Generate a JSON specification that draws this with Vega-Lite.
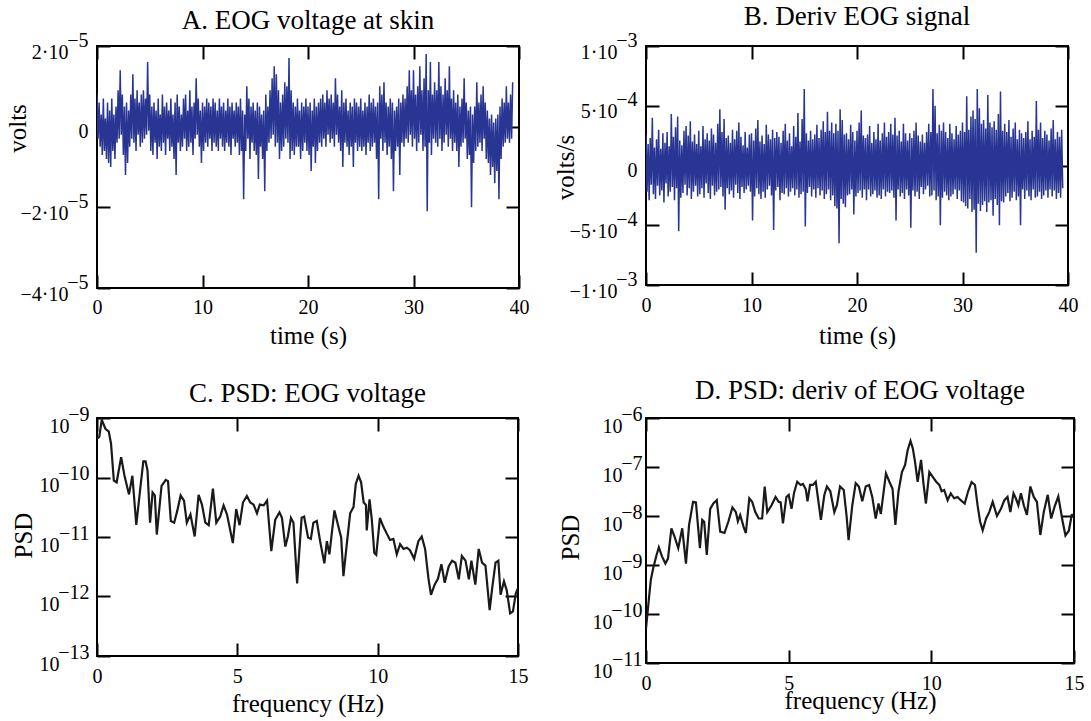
{
"$schema": "https://vega.github.io/schema/vega-lite/v6.json",
"autosize": {"type": "none"},
"padding": {"left": 97, "top": 46, "right": 994, "bottom": 675},
"config": {
 "font": "Liberation Serif",
 "view": {"stroke": "black", "strokeWidth": 2},
 "axis": {"labelFont": "Liberation Serif", "labelFontSize": 20, "labelColor": "black", "titleFont": "Liberation Serif", "titleFontSize": 25, "titleFontWeight": "normal", "titleColor": "black", "grid": false, "domain": false, "labelOverlap": false},
 "title": {"font": "Liberation Serif", "fontSize": 27, "fontWeight": "normal", "color": "black", "baseline": "alphabetic", "anchor": "middle", "offset": 0}
},
"datasets": {
"A": [
{"t":0.0,"v":8},{"t":0.1,"v":-3},{"t":0.2,"v":6},{"t":0.3,"v":-5},{"t":0.4,"v":3},{"t":0.5,"v":-7},{"t":0.6,"v":7},{"t":0.7,"v":-6},{"t":0.8,"v":2},{"t":0.9,"v":-8},
{"t":1.0,"v":6},{"t":1.1,"v":-9},{"t":1.2,"v":4},{"t":1.3,"v":-10},{"t":1.4,"v":7},{"t":1.5,"v":-6},{"t":1.6,"v":3},{"t":1.7,"v":-8},{"t":1.8,"v":5},{"t":1.9,"v":-4},
{"t":2.0,"v":9},{"t":2.1,"v":-3},{"t":2.2,"v":14},{"t":2.3,"v":-2},{"t":2.4,"v":8},{"t":2.5,"v":-7},{"t":2.6,"v":5},{"t":2.7,"v":-12},{"t":2.8,"v":6},{"t":2.9,"v":-9},
{"t":3.0,"v":4},{"t":3.1,"v":-5},{"t":3.2,"v":8},{"t":3.3,"v":-3},{"t":3.4,"v":13},{"t":3.5,"v":-4},{"t":3.6,"v":7},{"t":3.7,"v":-6},{"t":3.8,"v":9},{"t":3.9,"v":-2},
{"t":4.0,"v":6},{"t":4.1,"v":-5},{"t":4.2,"v":8},{"t":4.3,"v":-4},{"t":4.4,"v":9},{"t":4.5,"v":-3},{"t":4.6,"v":7},{"t":4.7,"v":-2},{"t":4.8,"v":16},{"t":4.9,"v":-1},
{"t":5.0,"v":8},{"t":5.1,"v":-6},{"t":5.2,"v":5},{"t":5.3,"v":-7},{"t":5.4,"v":6},{"t":5.5,"v":-4},{"t":5.6,"v":4},{"t":5.7,"v":-8},{"t":5.8,"v":7},{"t":5.9,"v":-5},
{"t":6.0,"v":3},{"t":6.1,"v":-6},{"t":6.2,"v":8},{"t":6.3,"v":-4},{"t":6.4,"v":5},{"t":6.5,"v":-7},{"t":6.6,"v":6},{"t":6.7,"v":-3},{"t":6.8,"v":4},{"t":6.9,"v":-6},
{"t":7.0,"v":7},{"t":7.1,"v":-5},{"t":7.2,"v":3},{"t":7.3,"v":-8},{"t":7.4,"v":6},{"t":7.5,"v":-12},{"t":7.6,"v":8},{"t":7.7,"v":-4},{"t":7.8,"v":5},{"t":7.9,"v":-6},
{"t":8.0,"v":3},{"t":8.1,"v":-5},{"t":8.2,"v":7},{"t":8.3,"v":-3},{"t":8.4,"v":8},{"t":8.5,"v":-6},{"t":8.6,"v":4},{"t":8.7,"v":-5},{"t":8.8,"v":9},{"t":8.9,"v":-4},
{"t":9.0,"v":5},{"t":9.1,"v":-7},{"t":9.2,"v":6},{"t":9.3,"v":-3},{"t":9.4,"v":12},{"t":9.5,"v":-2},{"t":9.6,"v":7},{"t":9.7,"v":-5},{"t":9.8,"v":4},{"t":9.9,"v":-9},
{"t":10.0,"v":6},{"t":10.1,"v":-6},{"t":10.2,"v":5},{"t":10.3,"v":-4},{"t":10.4,"v":7},{"t":10.5,"v":-5},{"t":10.6,"v":6},{"t":10.7,"v":-3},{"t":10.8,"v":5},{"t":10.9,"v":-6},
{"t":11.0,"v":7},{"t":11.1,"v":-4},{"t":11.2,"v":6},{"t":11.3,"v":-5},{"t":11.4,"v":4},{"t":11.5,"v":-6},{"t":11.6,"v":7},{"t":11.7,"v":-3},{"t":11.8,"v":5},{"t":11.9,"v":-5},
{"t":12.0,"v":6},{"t":12.1,"v":-6},{"t":12.2,"v":4},{"t":12.3,"v":-4},{"t":12.4,"v":7},{"t":12.5,"v":-5},{"t":12.6,"v":5},{"t":12.7,"v":-7},{"t":12.8,"v":6},{"t":12.9,"v":-3},
{"t":13.0,"v":4},{"t":13.1,"v":-5},{"t":13.2,"v":6},{"t":13.3,"v":-4},{"t":13.4,"v":5},{"t":13.5,"v":-7},{"t":13.6,"v":7},{"t":13.7,"v":-6},{"t":13.8,"v":4},{"t":13.9,"v":-18},
{"t":14.0,"v":3},{"t":14.1,"v":-6},{"t":14.2,"v":10},{"t":14.3,"v":-3},{"t":14.4,"v":7},{"t":14.5,"v":-8},{"t":14.6,"v":5},{"t":14.7,"v":-4},{"t":14.8,"v":6},{"t":14.9,"v":-6},
{"t":15.0,"v":4},{"t":15.1,"v":-7},{"t":15.2,"v":6},{"t":15.3,"v":-13},{"t":15.4,"v":5},{"t":15.5,"v":-5},{"t":15.6,"v":3},{"t":15.7,"v":-8},{"t":15.8,"v":4},{"t":15.9,"v":-16},
{"t":16.0,"v":8},{"t":16.1,"v":-6},{"t":16.2,"v":5},{"t":16.3,"v":-4},{"t":16.4,"v":9},{"t":16.5,"v":-3},{"t":16.6,"v":12},{"t":16.7,"v":-2},{"t":16.8,"v":15},{"t":16.9,"v":-5},
{"t":17.0,"v":13},{"t":17.1,"v":-4},{"t":17.2,"v":9},{"t":17.3,"v":-8},{"t":17.4,"v":6},{"t":17.5,"v":-6},{"t":17.6,"v":8},{"t":17.7,"v":-5},{"t":17.8,"v":11},{"t":17.9,"v":-3},
{"t":18.0,"v":10},{"t":18.1,"v":-4},{"t":18.2,"v":17},{"t":18.3,"v":-8},{"t":18.4,"v":9},{"t":18.5,"v":-6},{"t":18.6,"v":6},{"t":18.7,"v":-7},{"t":18.8,"v":5},{"t":18.9,"v":-5},
{"t":19.0,"v":7},{"t":19.1,"v":-5},{"t":19.2,"v":4},{"t":19.3,"v":-8},{"t":19.4,"v":6},{"t":19.5,"v":-6},{"t":19.6,"v":5},{"t":19.7,"v":-4},{"t":19.8,"v":7},{"t":19.9,"v":-6},
{"t":20.0,"v":5},{"t":20.1,"v":-7},{"t":20.2,"v":6},{"t":20.3,"v":-11},{"t":20.4,"v":4},{"t":20.5,"v":-5},{"t":20.6,"v":7},{"t":20.7,"v":-9},{"t":20.8,"v":5},{"t":20.9,"v":-6},
{"t":21.0,"v":6},{"t":21.1,"v":-4},{"t":21.2,"v":7},{"t":21.3,"v":-5},{"t":21.4,"v":8},{"t":21.5,"v":-3},{"t":21.6,"v":6},{"t":21.7,"v":-5},{"t":21.8,"v":9},{"t":21.9,"v":-2},
{"t":22.0,"v":7},{"t":22.1,"v":-4},{"t":22.2,"v":8},{"t":22.3,"v":-3},{"t":22.4,"v":6},{"t":22.5,"v":-5},{"t":22.6,"v":12},{"t":22.7,"v":-2},{"t":22.8,"v":8},{"t":22.9,"v":-4},
{"t":23.0,"v":5},{"t":23.1,"v":-6},{"t":23.2,"v":9},{"t":23.3,"v":-10},{"t":23.4,"v":6},{"t":23.5,"v":-4},{"t":23.6,"v":7},{"t":23.7,"v":-5},{"t":23.8,"v":4},{"t":23.9,"v":-7},
{"t":24.0,"v":6},{"t":24.1,"v":-5},{"t":24.2,"v":5},{"t":24.3,"v":-10},{"t":24.4,"v":7},{"t":24.5,"v":-4},{"t":24.6,"v":6},{"t":24.7,"v":-6},{"t":24.8,"v":5},{"t":24.9,"v":-5},
{"t":25.0,"v":7},{"t":25.1,"v":-6},{"t":25.2,"v":4},{"t":25.3,"v":-5},{"t":25.4,"v":6},{"t":25.5,"v":-7},{"t":25.6,"v":5},{"t":25.7,"v":-4},{"t":25.8,"v":8},{"t":25.9,"v":-6},
{"t":26.0,"v":6},{"t":26.1,"v":-5},{"t":26.2,"v":7},{"t":26.3,"v":-4},{"t":26.4,"v":5},{"t":26.5,"v":-8},{"t":26.6,"v":6},{"t":26.7,"v":-18},{"t":26.8,"v":10},{"t":26.9,"v":-3},
{"t":27.0,"v":8},{"t":27.1,"v":-6},{"t":27.2,"v":11},{"t":27.3,"v":-4},{"t":27.4,"v":6},{"t":27.5,"v":-7},{"t":27.6,"v":5},{"t":27.7,"v":-5},{"t":27.8,"v":7},{"t":27.9,"v":-8},
{"t":28.0,"v":6},{"t":28.1,"v":-16},{"t":28.2,"v":4},{"t":28.3,"v":-6},{"t":28.4,"v":5},{"t":28.5,"v":-5},{"t":28.6,"v":7},{"t":28.7,"v":-12},{"t":28.8,"v":6},{"t":28.9,"v":-4},
{"t":29.0,"v":8},{"t":29.1,"v":-5},{"t":29.2,"v":7},{"t":29.3,"v":-3},{"t":29.4,"v":10},{"t":29.5,"v":-4},{"t":29.6,"v":14},{"t":29.7,"v":-2},{"t":29.8,"v":9},{"t":29.9,"v":-5},
{"t":30.0,"v":14},{"t":30.1,"v":-3},{"t":30.2,"v":8},{"t":30.3,"v":-6},{"t":30.4,"v":10},{"t":30.5,"v":-4},{"t":30.6,"v":15},{"t":30.7,"v":-2},{"t":30.8,"v":9},{"t":30.9,"v":-6},
{"t":31.0,"v":12},{"t":31.1,"v":-5},{"t":31.2,"v":18},{"t":31.3,"v":-21},{"t":31.4,"v":9},{"t":31.5,"v":-4},{"t":31.6,"v":16},{"t":31.7,"v":-7},{"t":31.8,"v":8},{"t":31.9,"v":-3},
{"t":32.0,"v":11},{"t":32.1,"v":-4},{"t":32.2,"v":9},{"t":32.3,"v":-5},{"t":32.4,"v":16},{"t":32.5,"v":-3},{"t":32.6,"v":10},{"t":32.7,"v":-6},{"t":32.8,"v":8},{"t":32.9,"v":-4},
{"t":33.0,"v":12},{"t":33.1,"v":-2},{"t":33.2,"v":9},{"t":33.3,"v":-5},{"t":33.4,"v":15},{"t":33.5,"v":-3},{"t":33.6,"v":7},{"t":33.7,"v":-6},{"t":33.8,"v":9},{"t":33.9,"v":-4},
{"t":34.0,"v":6},{"t":34.1,"v":-6},{"t":34.2,"v":8},{"t":34.3,"v":-10},{"t":34.4,"v":5},{"t":34.5,"v":-5},{"t":34.6,"v":7},{"t":34.7,"v":-4},{"t":34.8,"v":12},{"t":34.9,"v":-3},
{"t":35.0,"v":6},{"t":35.1,"v":-8},{"t":35.2,"v":4},{"t":35.3,"v":-7},{"t":35.4,"v":5},{"t":35.5,"v":-20},{"t":35.6,"v":3},{"t":35.7,"v":-9},{"t":35.8,"v":5},{"t":35.9,"v":-6},
{"t":36.0,"v":11},{"t":36.1,"v":-5},{"t":36.2,"v":6},{"t":36.3,"v":-4},{"t":36.4,"v":8},{"t":36.5,"v":-6},{"t":36.6,"v":10},{"t":36.7,"v":-3},{"t":36.8,"v":6},{"t":36.9,"v":-8},
{"t":37.0,"v":4},{"t":37.1,"v":-9},{"t":37.2,"v":2},{"t":37.3,"v":-12},{"t":37.4,"v":3},{"t":37.5,"v":-10},{"t":37.6,"v":1},{"t":37.7,"v":-14},{"t":37.8,"v":2},{"t":37.9,"v":-11},
{"t":38.0,"v":3},{"t":38.1,"v":-18},{"t":38.2,"v":5},{"t":38.3,"v":-8},{"t":38.4,"v":7},{"t":38.5,"v":-5},{"t":38.6,"v":6},{"t":38.7,"v":-4},{"t":38.8,"v":10},{"t":38.9,"v":-3},
{"t":39.0,"v":6},{"t":39.1,"v":-4},{"t":39.2,"v":8},{"t":39.3,"v":-3},{"t":39.4,"v":11}
],
"B": [
{"t":0.0,"v":2.6},{"t":0.1,"v":-2.2},{"t":0.2,"v":1.8},{"t":0.3,"v":-2.9},{"t":0.4,"v":2.3},{"t":0.5,"v":-1.6},{"t":0.6,"v":4.0},{"t":0.7,"v":-2.4},{"t":0.8,"v":1.5},{"t":0.9,"v":-2.8},
{"t":1.0,"v":2.2},{"t":1.1,"v":-1.7},{"t":1.2,"v":3.0},{"t":1.3,"v":-2.5},{"t":1.4,"v":1.4},{"t":1.5,"v":-2.1},{"t":1.6,"v":2.7},{"t":1.7,"v":-3.1},{"t":1.8,"v":1.9},{"t":1.9,"v":-1.5},
{"t":2.0,"v":2.8},{"t":2.1,"v":-2.6},{"t":2.2,"v":1.6},{"t":2.3,"v":-2.2},{"t":2.4,"v":4.3},{"t":2.5,"v":-1.8},{"t":2.6,"v":2.4},{"t":2.7,"v":-2.9},{"t":2.8,"v":3.2},{"t":2.9,"v":-1.9},
{"t":3.0,"v":4.1},{"t":3.1,"v":-5.5},{"t":3.2,"v":2.1},{"t":3.3,"v":-2.7},{"t":3.4,"v":1.7},{"t":3.5,"v":-2.3},{"t":3.6,"v":2.9},{"t":3.7,"v":-1.6},{"t":3.8,"v":3.3},{"t":3.9,"v":-2.5},
{"t":4.0,"v":2.5},{"t":4.1,"v":-1.9},{"t":4.2,"v":3.7},{"t":4.3,"v":-2.8},{"t":4.4,"v":2.0},{"t":4.5,"v":-2.2},{"t":4.6,"v":2.6},{"t":4.7,"v":-1.7},{"t":4.8,"v":1.8},{"t":4.9,"v":-2.6},
{"t":5.0,"v":2.9},{"t":5.1,"v":-2.4},{"t":5.2,"v":1.6},{"t":5.3,"v":-1.9},{"t":5.4,"v":3.3},{"t":5.5,"v":-2.7},{"t":5.6,"v":2.2},{"t":5.7,"v":-1.5},{"t":5.8,"v":2.7},{"t":5.9,"v":-2.3},
{"t":6.0,"v":2.1},{"t":6.1,"v":-2.8},{"t":6.2,"v":3.1},{"t":6.3,"v":-1.7},{"t":6.4,"v":2.6},{"t":6.5,"v":-2.5},{"t":6.6,"v":1.9},{"t":6.7,"v":-2.2},{"t":6.8,"v":3.5},{"t":6.9,"v":-2.0},
{"t":7.0,"v":4.7},{"t":7.1,"v":-1.8},{"t":7.2,"v":2.8},{"t":7.3,"v":-2.6},{"t":7.4,"v":3.9},{"t":7.5,"v":-3.7},{"t":7.6,"v":2.3},{"t":7.7,"v":-1.9},{"t":7.8,"v":2.5},{"t":7.9,"v":-2.4},
{"t":8.0,"v":1.9},{"t":8.1,"v":-2.1},{"t":8.2,"v":3.0},{"t":8.3,"v":-2.7},{"t":8.4,"v":2.2},{"t":8.5,"v":-1.6},{"t":8.6,"v":2.9},{"t":8.7,"v":-2.3},{"t":8.8,"v":3.6},{"t":8.9,"v":-2.8},
{"t":9.0,"v":2.4},{"t":9.1,"v":-1.8},{"t":9.2,"v":1.7},{"t":9.3,"v":-2.3},{"t":9.4,"v":2.8},{"t":9.5,"v":-2.0},{"t":9.6,"v":1.5},{"t":9.7,"v":-1.7},{"t":9.8,"v":2.6},{"t":9.9,"v":-2.2},
{"t":10.0,"v":2.7},{"t":10.1,"v":-4.6},{"t":10.2,"v":2.1},{"t":10.3,"v":-2.6},{"t":10.4,"v":3.1},{"t":10.5,"v":-1.9},{"t":10.6,"v":3.8},{"t":10.7,"v":-2.4},{"t":10.8,"v":2.0},{"t":10.9,"v":-2.8},
{"t":11.0,"v":2.5},{"t":11.1,"v":-2.2},{"t":11.2,"v":1.8},{"t":11.3,"v":-2.7},{"t":11.4,"v":3.4},{"t":11.5,"v":-2.0},{"t":11.6,"v":2.6},{"t":11.7,"v":-1.7},{"t":11.8,"v":2.2},{"t":11.9,"v":-2.5},
{"t":12.0,"v":3.0},{"t":12.1,"v":-5.4},{"t":12.2,"v":2.3},{"t":12.3,"v":-2.1},{"t":12.4,"v":2.8},{"t":12.5,"v":-1.8},{"t":12.6,"v":2.4},{"t":12.7,"v":-2.9},{"t":12.8,"v":1.9},{"t":12.9,"v":-2.3},
{"t":13.0,"v":2.9},{"t":13.1,"v":-2.4},{"t":13.2,"v":3.5},{"t":13.3,"v":-1.9},{"t":13.4,"v":2.1},{"t":13.5,"v":-2.6},{"t":13.6,"v":2.7},{"t":13.7,"v":-2.2},{"t":13.8,"v":1.6},{"t":13.9,"v":-1.9},
{"t":14.0,"v":3.3},{"t":14.1,"v":-2.5},{"t":14.2,"v":2.4},{"t":14.3,"v":-2.0},{"t":14.4,"v":4.4},{"t":14.5,"v":-2.7},{"t":14.6,"v":2.0},{"t":14.7,"v":-2.4},{"t":14.8,"v":3.9},{"t":14.9,"v":-2.2},
{"t":15.0,"v":6.4},{"t":15.1,"v":-5.1},{"t":15.2,"v":2.7},{"t":15.3,"v":-2.3},{"t":15.4,"v":2.1},{"t":15.5,"v":-1.8},{"t":15.6,"v":2.9},{"t":15.7,"v":-2.6},{"t":15.8,"v":2.2},{"t":15.9,"v":-2.0},
{"t":16.0,"v":2.6},{"t":16.1,"v":-2.7},{"t":16.2,"v":3.4},{"t":16.3,"v":-1.9},{"t":16.4,"v":2.3},{"t":16.5,"v":-2.5},{"t":16.6,"v":3.0},{"t":16.7,"v":-2.1},{"t":16.8,"v":3.7},{"t":16.9,"v":-2.8},
{"t":17.0,"v":2.8},{"t":17.1,"v":-2.4},{"t":17.2,"v":4.5},{"t":17.3,"v":-2.0},{"t":17.4,"v":2.9},{"t":17.5,"v":-2.9},{"t":17.6,"v":3.6},{"t":17.7,"v":-2.5},{"t":17.8,"v":2.7},{"t":17.9,"v":-3.4},
{"t":18.0,"v":3.5},{"t":18.1,"v":-3.6},{"t":18.2,"v":2.9},{"t":18.3,"v":-6.5},{"t":18.4,"v":4.7},{"t":18.5,"v":-2.8},{"t":18.6,"v":3.8},{"t":18.7,"v":-3.2},{"t":18.8,"v":2.6},{"t":18.9,"v":-3.5},
{"t":19.0,"v":2.7},{"t":19.1,"v":-2.5},{"t":19.2,"v":2.2},{"t":19.3,"v":-2.4},{"t":19.4,"v":3.4},{"t":19.5,"v":-2.0},{"t":19.6,"v":2.8},{"t":19.7,"v":-4.1},{"t":19.8,"v":2.1},{"t":19.9,"v":-2.6},
{"t":20.0,"v":2.9},{"t":20.1,"v":-2.3},{"t":20.2,"v":3.6},{"t":20.3,"v":-2.1},{"t":20.4,"v":4.6},{"t":20.5,"v":-2.7},{"t":20.6,"v":2.5},{"t":20.7,"v":-2.0},{"t":20.8,"v":2.3},{"t":20.9,"v":-2.9},
{"t":21.0,"v":2.6},{"t":21.1,"v":-2.0},{"t":21.2,"v":3.3},{"t":21.3,"v":-2.6},{"t":21.4,"v":1.9},{"t":21.5,"v":-2.4},{"t":21.6,"v":2.8},{"t":21.7,"v":-2.1},{"t":21.8,"v":2.2},{"t":21.9,"v":-2.7},
{"t":22.0,"v":3.5},{"t":22.1,"v":-2.5},{"t":22.2,"v":2.1},{"t":22.3,"v":-2.8},{"t":22.4,"v":2.7},{"t":22.5,"v":-2.0},{"t":22.6,"v":3.6},{"t":22.7,"v":-2.6},{"t":22.8,"v":2.4},{"t":22.9,"v":-2.2},
{"t":23.0,"v":2.8},{"t":23.1,"v":-2.3},{"t":23.2,"v":3.5},{"t":23.3,"v":-2.1},{"t":23.4,"v":2.6},{"t":23.5,"v":-2.7},{"t":23.6,"v":4.0},{"t":23.7,"v":-4.6},{"t":23.8,"v":2.5},{"t":23.9,"v":-2.0},
{"t":24.0,"v":2.9},{"t":24.1,"v":-2.6},{"t":24.2,"v":2.0},{"t":24.3,"v":-2.3},{"t":24.4,"v":3.5},{"t":24.5,"v":-2.8},{"t":24.6,"v":2.7},{"t":24.7,"v":-2.0},{"t":24.8,"v":2.1},{"t":24.9,"v":-2.5},
{"t":25.0,"v":2.7},{"t":25.1,"v":-5.2},{"t":25.2,"v":2.3},{"t":25.3,"v":-2.1},{"t":25.4,"v":2.9},{"t":25.5,"v":-2.6},{"t":25.6,"v":3.6},{"t":25.7,"v":-2.2},{"t":25.8,"v":2.5},{"t":25.9,"v":-2.8},
{"t":26.0,"v":2.0},{"t":26.1,"v":-1.8},{"t":26.2,"v":2.6},{"t":26.3,"v":-2.4},{"t":26.4,"v":1.9},{"t":26.5,"v":-2.0},{"t":26.6,"v":2.8},{"t":26.7,"v":-1.7},{"t":26.8,"v":3.5},{"t":26.9,"v":-2.6},
{"t":27.0,"v":2.8},{"t":27.1,"v":-2.5},{"t":27.2,"v":6.4},{"t":27.3,"v":-2.1},{"t":27.4,"v":5.0},{"t":27.5,"v":-2.9},{"t":27.6,"v":2.7},{"t":27.7,"v":-2.6},{"t":27.8,"v":3.4},{"t":27.9,"v":-5.0},
{"t":28.0,"v":2.9},{"t":28.1,"v":-2.7},{"t":28.2,"v":3.6},{"t":28.3,"v":-2.2},{"t":28.4,"v":2.8},{"t":28.5,"v":-2.5},{"t":28.6,"v":2.3},{"t":28.7,"v":-2.9},{"t":28.8,"v":3.5},{"t":28.9,"v":-2.6},
{"t":29.0,"v":2.7},{"t":29.1,"v":-2.4},{"t":29.2,"v":2.2},{"t":29.3,"v":-2.0},{"t":29.4,"v":3.3},{"t":29.5,"v":-2.8},{"t":29.6,"v":2.6},{"t":29.7,"v":-2.1},{"t":29.8,"v":2.9},{"t":29.9,"v":-3.0},
{"t":30.0,"v":3.6},{"t":30.1,"v":-3.1},{"t":30.2,"v":2.8},{"t":30.3,"v":-3.4},{"t":30.4,"v":5.8},{"t":30.5,"v":-3.6},{"t":30.6,"v":3.0},{"t":30.7,"v":-2.8},{"t":30.8,"v":4.1},{"t":30.9,"v":-3.9},
{"t":31.0,"v":4.6},{"t":31.1,"v":-3.7},{"t":31.2,"v":3.9},{"t":31.3,"v":-7.3},{"t":31.4,"v":6.4},{"t":31.5,"v":-3.2},{"t":31.6,"v":4.8},{"t":31.7,"v":-3.8},{"t":31.8,"v":3.5},{"t":31.9,"v":-3.3},
{"t":32.0,"v":3.8},{"t":32.1,"v":-3.0},{"t":32.2,"v":3.1},{"t":32.3,"v":-3.9},{"t":32.4,"v":5.9},{"t":32.5,"v":-3.1},{"t":32.6,"v":3.6},{"t":32.7,"v":-2.9},{"t":32.8,"v":3.2},{"t":32.9,"v":-4.2},
{"t":33.0,"v":3.7},{"t":33.1,"v":-2.8},{"t":33.2,"v":3.0},{"t":33.3,"v":-3.3},{"t":33.4,"v":4.3},{"t":33.5,"v":-5.0},{"t":33.6,"v":6.2},{"t":33.7,"v":-3.0},{"t":33.8,"v":2.9},{"t":33.9,"v":-3.1},
{"t":34.0,"v":3.5},{"t":34.1,"v":-2.6},{"t":34.2,"v":2.8},{"t":34.3,"v":-2.3},{"t":34.4,"v":3.8},{"t":34.5,"v":-3.0},{"t":34.6,"v":2.4},{"t":34.7,"v":-2.7},{"t":34.8,"v":3.1},{"t":34.9,"v":-2.2},
{"t":35.0,"v":3.6},{"t":35.1,"v":-2.9},{"t":35.2,"v":2.2},{"t":35.3,"v":-2.6},{"t":35.4,"v":3.0},{"t":35.5,"v":-5.0},{"t":35.6,"v":2.7},{"t":35.7,"v":-2.0},{"t":35.8,"v":2.3},{"t":35.9,"v":-2.8},
{"t":36.0,"v":2.8},{"t":36.1,"v":-2.1},{"t":36.2,"v":3.7},{"t":36.3,"v":-2.6},{"t":36.4,"v":2.2},{"t":36.5,"v":-2.9},{"t":36.6,"v":2.9},{"t":36.7,"v":-2.0},{"t":36.8,"v":2.4},{"t":36.9,"v":-2.7},
{"t":37.0,"v":5.4},{"t":37.1,"v":-2.6},{"t":37.2,"v":3.0},{"t":37.3,"v":-2.2},{"t":37.4,"v":3.6},{"t":37.5,"v":-2.8},{"t":37.6,"v":2.3},{"t":37.7,"v":-2.5},{"t":37.8,"v":2.9},{"t":37.9,"v":-2.1},
{"t":38.0,"v":2.6},{"t":38.1,"v":-2.7},{"t":38.2,"v":2.1},{"t":38.3,"v":-2.0},{"t":38.4,"v":3.1},{"t":38.5,"v":-2.6},{"t":38.6,"v":3.8},{"t":38.7,"v":-2.1},{"t":38.8,"v":2.2},{"t":38.9,"v":-2.8},
{"t":39.0,"v":2.8},{"t":39.1,"v":-2.3},{"t":39.2,"v":2.4},{"t":39.3,"v":-2.7},{"t":39.4,"v":3.0},{"t":39.5,"v":-1.9}
],
"C": [
{"f":0,"psd":4.5e-10},{"f":0.08,"psd":4.8e-10},{"f":0.17,"psd":9.3e-10},{"f":0.3,"psd":6.6e-10},{"f":0.42,"psd":5.9e-10},{"f":0.5,"psd":3.7e-10},{"f":0.6,"psd":8.9e-11},{"f":0.7,"psd":8.3e-11},{"f":0.86,"psd":2.2e-10},{"f":0.98,"psd":1.07e-10},
{"f":1.14,"psd":5.2e-11},{"f":1.26,"psd":1.07e-10},{"f":1.4,"psd":1.6e-11},{"f":1.56,"psd":7.8e-11},{"f":1.65,"psd":1.86e-10},{"f":1.73,"psd":1.86e-10},{"f":1.8,"psd":1.32e-10},{"f":1.89,"psd":1.74e-11},{"f":1.98,"psd":5.6e-11},{"f":2.06,"psd":5.0e-11},
{"f":2.13,"psd":1.1e-11},{"f":2.3,"psd":7.2e-11},{"f":2.45,"psd":9.1e-11},{"f":2.53,"psd":8.7e-11},{"f":2.63,"psd":1.86e-11},{"f":2.75,"psd":1.74e-11},{"f":2.86,"psd":2.75e-11},{"f":2.98,"psd":5.0e-11},{"f":3.1,"psd":4.1e-11},{"f":3.2,"psd":1.74e-11},
{"f":3.33,"psd":2.4e-11},{"f":3.48,"psd":1.02e-11},{"f":3.62,"psd":5.1e-11},{"f":3.74,"psd":3.5e-11},{"f":3.86,"psd":1.74e-11},{"f":3.98,"psd":1.58e-11},{"f":4.13,"psd":6.5e-11},{"f":4.25,"psd":1.74e-11},{"f":4.39,"psd":2.2e-11},{"f":4.51,"psd":3.4e-11},
{"f":4.63,"psd":2.4e-11},{"f":4.84,"psd":7.9e-12},{"f":4.96,"psd":2.95e-11},{"f":5.08,"psd":1.58e-11},{"f":5.2,"psd":3.8e-11},{"f":5.34,"psd":4.9e-11},{"f":5.46,"psd":3.8e-11},{"f":5.58,"psd":3.5e-11},{"f":5.7,"psd":2.5e-11},{"f":5.8,"psd":3.5e-11},
{"f":5.94,"psd":3.4e-11},{"f":6.06,"psd":4.1e-11},{"f":6.21,"psd":5.8e-12},{"f":6.35,"psd":1.95e-11},{"f":6.5,"psd":2.6e-11},{"f":6.59,"psd":2.1e-11},{"f":6.71,"psd":6.9e-12},{"f":6.8,"psd":1.02e-11},{"f":6.91,"psd":2.1e-11},{"f":7.0,"psd":1.74e-11},
{"f":7.13,"psd":1.66e-12},{"f":7.29,"psd":2.1e-11},{"f":7.38,"psd":2.2e-11},{"f":7.52,"psd":9.8e-12},{"f":7.62,"psd":9.3e-12},{"f":7.71,"psd":1.74e-11},{"f":7.83,"psd":1.86e-11},{"f":7.95,"psd":8.5e-12},{"f":8.1,"psd":3.6e-12},{"f":8.19,"psd":8.5e-12},
{"f":8.28,"psd":5.1e-12},{"f":8.46,"psd":2.8e-11},{"f":8.6,"psd":1.5e-11},{"f":8.7,"psd":9.8e-12},{"f":8.78,"psd":2.2e-12},{"f":8.9,"psd":7.6e-12},{"f":9.02,"psd":2.5e-11},{"f":9.14,"psd":3.2e-11},{"f":9.22,"psd":7.8e-11},{"f":9.32,"psd":1.07e-10},
{"f":9.41,"psd":8.3e-11},{"f":9.5,"psd":3.8e-11},{"f":9.58,"psd":3.5e-11},{"f":9.61,"psd":1.29e-11},{"f":9.71,"psd":4.3e-11},{"f":9.79,"psd":2.0e-11},{"f":9.88,"psd":5.4e-12},{"f":9.95,"psd":5.0e-12},{"f":10.08,"psd":2.1e-11},{"f":10.2,"psd":1.5e-11},
{"f":10.32,"psd":1.15e-11},{"f":10.44,"psd":8.9e-12},{"f":10.56,"psd":9.3e-12},{"f":10.68,"psd":5.1e-12},{"f":10.8,"psd":7.6e-12},{"f":10.92,"psd":6.3e-12},{"f":11.04,"psd":6.6e-12},{"f":11.15,"psd":6.0e-12},{"f":11.3,"psd":4.3e-12},{"f":11.45,"psd":8.5e-12},
{"f":11.57,"psd":1.02e-11},{"f":11.69,"psd":6.3e-12},{"f":11.81,"psd":2.0e-12},{"f":11.9,"psd":1.07e-12},{"f":12.03,"psd":1.58e-12},{"f":12.15,"psd":2.0e-12},{"f":12.27,"psd":3.5e-12},{"f":12.39,"psd":1.7e-12},{"f":12.53,"psd":3.2e-12},{"f":12.65,"psd":4.0e-12},
{"f":12.77,"psd":3.7e-12},{"f":12.89,"psd":1.95e-12},{"f":13.0,"psd":4.8e-12},{"f":13.13,"psd":4.0e-12},{"f":13.25,"psd":1.95e-12},{"f":13.34,"psd":4.0e-12},{"f":13.48,"psd":1.58e-12},{"f":13.6,"psd":6.3e-12},{"f":13.72,"psd":3.7e-12},{"f":13.84,"psd":3.3e-12},
{"f":13.99,"psd":5.9e-13},{"f":14.08,"psd":1.38e-12},{"f":14.2,"psd":3.7e-12},{"f":14.3,"psd":4.0e-12},{"f":14.38,"psd":1.07e-12},{"f":14.5,"psd":1.8e-12},{"f":14.6,"psd":1.26e-12},{"f":14.72,"psd":5.2e-13},{"f":14.82,"psd":5.6e-13},{"f":14.92,"psd":1.12e-12},{"f":15.0,"psd":1.38e-12}
],
"D": [
{"f":0,"psd":5.0e-11},{"f":0.1,"psd":2.0e-10},{"f":0.17,"psd":5.0e-10},{"f":0.25,"psd":8.5e-10},{"f":0.37,"psd":1.6e-9},{"f":0.45,"psd":2.3e-9},{"f":0.56,"psd":1.5e-9},{"f":0.68,"psd":1.07e-9},{"f":0.77,"psd":1.35e-9},{"f":0.89,"psd":5.6e-9},
{"f":1.0,"psd":3.8e-9},{"f":1.13,"psd":2.2e-9},{"f":1.27,"psd":5.6e-9},{"f":1.4,"psd":1.07e-9},{"f":1.51,"psd":6.6e-9},{"f":1.65,"psd":1.95e-8},{"f":1.75,"psd":1.9e-8},{"f":1.89,"psd":2.2e-9},{"f":1.97,"psd":8.3e-9},{"f":2.04,"psd":7.6e-9},
{"f":2.13,"psd":1.6e-9},{"f":2.25,"psd":1.4e-8},{"f":2.36,"psd":1.8e-8},{"f":2.48,"psd":2.1e-8},{"f":2.6,"psd":4.8e-9},{"f":2.75,"psd":4.5e-9},{"f":2.89,"psd":7.8e-9},{"f":3.03,"psd":1.5e-8},{"f":3.15,"psd":1.2e-8},{"f":3.22,"psd":7.8e-9},
{"f":3.3,"psd":1.05e-8},{"f":3.42,"psd":6.0e-9},{"f":3.5,"psd":4.5e-9},{"f":3.62,"psd":2.3e-8},{"f":3.72,"psd":1.95e-8},{"f":3.83,"psd":1.2e-8},{"f":3.95,"psd":8.9e-9},{"f":4.07,"psd":8.9e-9},{"f":4.16,"psd":4.0e-8},{"f":4.25,"psd":1.2e-8},
{"f":4.4,"psd":1.66e-8},{"f":4.54,"psd":2.45e-8},{"f":4.65,"psd":1.95e-8},{"f":4.72,"psd":1.9e-8},{"f":4.8,"psd":7.1e-9},{"f":4.92,"psd":2.45e-8},{"f":5.0,"psd":2.7e-8},{"f":5.1,"psd":1.4e-8},{"f":5.19,"psd":3.0e-8},{"f":5.3,"psd":5.0e-8},
{"f":5.42,"psd":4.3e-8},{"f":5.5,"psd":4.5e-8},{"f":5.6,"psd":3.5e-8},{"f":5.66,"psd":2.0e-8},{"f":5.75,"psd":4.3e-8},{"f":5.85,"psd":4.3e-8},{"f":5.95,"psd":5.0e-8},{"f":6.13,"psd":8.3e-9},{"f":6.25,"psd":2.7e-8},{"f":6.34,"psd":4.0e-8},
{"f":6.46,"psd":3.2e-8},{"f":6.6,"psd":1.2e-8},{"f":6.69,"psd":1.66e-8},{"f":6.8,"psd":4.0e-8},{"f":6.93,"psd":3.4e-8},{"f":7.03,"psd":1.0e-8},{"f":7.1,"psd":3.2e-9},{"f":7.23,"psd":1.66e-8},{"f":7.35,"psd":4.7e-8},{"f":7.46,"psd":4.0e-8},
{"f":7.58,"psd":2.0e-8},{"f":7.7,"psd":4.0e-8},{"f":7.82,"psd":4.3e-8},{"f":7.93,"psd":2.45e-8},{"f":8.05,"psd":8.9e-9},{"f":8.15,"psd":1.8e-8},{"f":8.23,"psd":1.1e-8},{"f":8.41,"psd":7.4e-8},{"f":8.53,"psd":5.0e-8},{"f":8.64,"psd":3.6e-8},
{"f":8.74,"psd":6.6e-9},{"f":8.85,"psd":3.2e-8},{"f":8.97,"psd":7.9e-8},{"f":9.08,"psd":1.1e-7},{"f":9.17,"psd":2.2e-7},{"f":9.27,"psd":3.4e-7},{"f":9.35,"psd":2.4e-7},{"f":9.43,"psd":1.26e-7},{"f":9.52,"psd":5.0e-8},{"f":9.64,"psd":1.4e-7},
{"f":9.73,"psd":4.3e-8},{"f":9.81,"psd":1.8e-8},{"f":9.93,"psd":7.9e-8},{"f":10.05,"psd":6.3e-8},{"f":10.17,"psd":5.0e-8},{"f":10.28,"psd":4.3e-8},{"f":10.36,"psd":3.2e-8},{"f":10.45,"psd":3.4e-8},{"f":10.57,"psd":2.1e-8},{"f":10.68,"psd":2.9e-8},
{"f":10.8,"psd":2.3e-8},{"f":10.92,"psd":2.45e-8},{"f":11.03,"psd":2.1e-8},{"f":11.17,"psd":1.8e-8},{"f":11.29,"psd":3.2e-8},{"f":11.41,"psd":4.9e-8},{"f":11.53,"psd":4.3e-8},{"f":11.62,"psd":1.66e-8},{"f":11.71,"psd":7.6e-9},{"f":11.8,"psd":5.1e-9},
{"f":11.92,"psd":8.9e-9},{"f":12.03,"psd":1.2e-8},{"f":12.15,"psd":1.95e-8},{"f":12.3,"psd":1.0e-8},{"f":12.44,"psd":1.4e-8},{"f":12.56,"psd":2.1e-8},{"f":12.67,"psd":2.45e-8},{"f":12.77,"psd":1.2e-8},{"f":12.88,"psd":2.9e-8},{"f":12.96,"psd":2.3e-8},
{"f":13.05,"psd":1.66e-8},{"f":13.14,"psd":2.9e-8},{"f":13.24,"psd":1.66e-8},{"f":13.35,"psd":1.05e-8},{"f":13.47,"psd":4.0e-8},{"f":13.59,"psd":2.45e-8},{"f":13.7,"psd":1.95e-8},{"f":13.82,"psd":4.1e-9},{"f":13.94,"psd":1.2e-8},{"f":14.08,"psd":2.7e-8},
{"f":14.2,"psd":8.9e-9},{"f":14.32,"psd":1.55e-8},{"f":14.45,"psd":2.5e-8},{"f":14.6,"psd":7.9e-9},{"f":14.7,"psd":4.0e-9},{"f":14.82,"psd":5.0e-9},{"f":14.92,"psd":1.05e-8},{"f":15.0,"psd":1.07e-8}
]
},
"columns": 2,
"spacing": {"row": 130, "column": 127},
"bounds": "flush",
"concat": [
  {"width": 422, "height": 242,
   "title": {"text": "A. EOG voltage at skin", "dy": 9},
   "resolve": {"scale": {"x": "independent", "y": "independent"}},
   "layer": [
    {"data": {"name": "A"}, "mark": {"type": "line", "color": "#283593", "strokeWidth": 1.5, "clip": true},
     "encoding": {
      "x": {"field": "t", "type": "quantitative", "scale": {"domain": [0, 40], "nice": false, "zero": false},
            "axis": {"orient": "bottom", "values": [0, 10, 20, 30, 40], "ticks": false, "labelFlush": false, "labelPadding": 9, "title": "time (s)", "titleY": 55, "titleBaseline": "alphabetic"}},
      "y": {"field": "v", "type": "quantitative", "scale": {"domain": [-40, 20], "nice": false, "zero": false},
            "axis": {"orient": "left", "values": [-40, -20, 0, 20], "ticks": false, "labelPadding": 9, "labelLineHeight": 12, "labelBaseline": "middle",
                     "labelOffset": {"condition": {"test": "datum.value == 0", "value": 5}, "value": -6},
                     "labelExpr": "datum.value == 20 ? ['\u22125', '2\u00b710\u00a0\u00a0\u00a0\u00a0\u200b'] : datum.value == 0 ? '0' : datum.value == -20 ? ['\u22125', '\u22122\u00b710\u00a0\u00a0\u00a0\u00a0\u200b'] : ['\u22125', '\u22124\u00b710\u00a0\u00a0\u00a0\u00a0\u200b']",
                     "title": "volts", "titleX": -80, "titleY": 82, "titleBaseline": "middle", "titleAngle": -90}}
     }},
    {"data": {"name": "A"}, "mark": {"type": "line", "opacity": 0},
     "encoding": {
      "x": {"field": "t", "type": "quantitative", "scale": {"domain": [0, 40], "nice": false, "zero": false},
            "axis": {"orient": "bottom", "offset": -13, "values": [0, 10, 20, 30, 40], "labels": false, "ticks": true, "tickSize": 13, "tickWidth": 2, "tickColor": "black", "title": null}},
      "y": {"field": "v", "type": "quantitative", "scale": {"domain": [-40, 20], "nice": false, "zero": false},
            "axis": {"orient": "left", "offset": -13, "values": [-40, -20, 0, 20], "labels": false, "ticks": true, "tickSize": 13, "tickWidth": 2, "tickColor": "black", "title": null}}
     }},
    {"data": {"name": "A"}, "mark": {"type": "line", "opacity": 0},
     "encoding": {
      "x": {"field": "t", "type": "quantitative", "scale": {"domain": [0, 40], "nice": false, "zero": false},
            "axis": {"orient": "top", "offset": -13, "values": [0, 10, 20, 30, 40], "labels": false, "ticks": true, "tickSize": 13, "tickWidth": 2, "tickColor": "black", "title": null}},
      "y": {"field": "v", "type": "quantitative", "scale": {"domain": [-40, 20], "nice": false, "zero": false},
            "axis": {"orient": "right", "offset": -13, "values": [-40, -20, 0, 20], "labels": false, "ticks": true, "tickSize": 13, "tickWidth": 2, "tickColor": "black", "title": null}}
     }}
   ]},
  {"width": 422, "height": 239,
   "title": {"text": "B. Deriv EOG signal", "dy": 5},
   "resolve": {"scale": {"x": "independent", "y": "independent"}},
   "layer": [
    {"data": {"name": "B"}, "mark": {"type": "line", "color": "#283593", "strokeWidth": 1.5, "clip": true},
     "encoding": {
      "x": {"field": "t", "type": "quantitative", "scale": {"domain": [0, 40], "nice": false, "zero": false},
            "axis": {"orient": "bottom", "values": [0, 10, 20, 30, 40], "ticks": false, "labelFlush": false, "labelPadding": 10, "title": "time (s)", "titleY": 58, "titleBaseline": "alphabetic"}},
      "y": {"field": "v", "type": "quantitative", "scale": {"domain": [-10, 10], "nice": false, "zero": false},
            "axis": {"orient": "left", "values": [-10, -5, 0, 5, 10], "ticks": false, "labelPadding": 9, "labelLineHeight": 12, "labelBaseline": "middle",
                     "labelOffset": {"condition": {"test": "datum.value == 0", "value": 5}, "value": -6},
                     "labelExpr": "datum.value == 10 ? ['\u22123', '1\u00b710\u00a0\u00a0\u00a0\u00a0\u200b'] : datum.value == 5 ? ['\u22124', '5\u00b710\u00a0\u00a0\u00a0\u00a0\u200b'] : datum.value == 0 ? '0' : datum.value == -5 ? ['\u22124', '\u22125\u00b710\u00a0\u00a0\u00a0\u00a0\u200b'] : ['\u22123', '\u22121\u00b710\u00a0\u00a0\u00a0\u00a0\u200b']",
                     "title": "volts/s", "titleX": -81, "titleY": 121, "titleBaseline": "middle", "titleAngle": -90}}
     }},
    {"data": {"name": "B"}, "mark": {"type": "line", "opacity": 0},
     "encoding": {
      "x": {"field": "t", "type": "quantitative", "scale": {"domain": [0, 40], "nice": false, "zero": false},
            "axis": {"orient": "bottom", "offset": -13, "values": [0, 10, 20, 30, 40], "labels": false, "ticks": true, "tickSize": 13, "tickWidth": 2, "tickColor": "black", "title": null}},
      "y": {"field": "v", "type": "quantitative", "scale": {"domain": [-10, 10], "nice": false, "zero": false},
            "axis": {"orient": "left", "offset": -13, "values": [-10, -5, 0, 5, 10], "labels": false, "ticks": true, "tickSize": 13, "tickWidth": 2, "tickColor": "black", "title": null}}
     }},
    {"data": {"name": "B"}, "mark": {"type": "line", "opacity": 0},
     "encoding": {
      "x": {"field": "t", "type": "quantitative", "scale": {"domain": [0, 40], "nice": false, "zero": false},
            "axis": {"orient": "top", "offset": -13, "values": [0, 10, 20, 30, 40], "labels": false, "ticks": true, "tickSize": 13, "tickWidth": 2, "tickColor": "black", "title": null}},
      "y": {"field": "v", "type": "quantitative", "scale": {"domain": [-10, 10], "nice": false, "zero": false},
            "axis": {"orient": "right", "offset": -13, "values": [-10, -5, 0, 5, 10], "labels": false, "ticks": true, "tickSize": 13, "tickWidth": 2, "tickColor": "black", "title": null}}
     }}
   ]},
  {"width": 421, "height": 238,
   "title": {"text": "C. PSD: EOG voltage", "dy": 8},
   "resolve": {"scale": {"x": "independent", "y": "independent"}},
   "layer": [
    {"data": {"name": "C"}, "mark": {"type": "line", "color": "#1a1a1a", "strokeWidth": 2.2, "clip": true},
     "encoding": {
      "x": {"field": "f", "type": "quantitative", "scale": {"domain": [0, 15], "nice": false, "zero": false},
            "axis": {"orient": "bottom", "values": [0, 5, 10, 15], "ticks": false, "labelFlush": false, "labelPadding": 10, "title": "frequency (Hz)", "titleY": 55, "titleBaseline": "alphabetic"}},
      "y": {"field": "psd", "type": "quantitative", "scale": {"type": "log", "domain": [1e-13, 1e-9], "nice": false},
            "axis": {"orient": "left", "values": [1e-13, 1e-12, 1e-11, 1e-10, 1e-9], "ticks": false, "labelPadding": 8, "labelLineHeight": 12, "labelBaseline": "middle", "labelOffset": -4,
                     "labelExpr": "['\u2212' + (-round(log(datum.value)/LN10)), round(log(datum.value)/LN10) <= -10 ? '10\u00a0\u00a0\u00a0\u00a0\u00a0\u00a0\u200b' : '10\u00a0\u00a0\u00a0\u00a0\u200b']",
                     "title": "PSD", "titleX": -74, "titleY": 117, "titleBaseline": "middle", "titleAngle": -90}}
     }},
    {"data": {"name": "C"}, "mark": {"type": "line", "opacity": 0},
     "encoding": {
      "x": {"field": "f", "type": "quantitative", "scale": {"domain": [0, 15], "nice": false, "zero": false},
            "axis": {"orient": "bottom", "offset": -13, "values": [0, 5, 10, 15], "labels": false, "ticks": true, "tickSize": 13, "tickWidth": 2, "tickColor": "black", "title": null}},
      "y": {"field": "psd", "type": "quantitative", "scale": {"type": "log", "domain": [1e-13, 1e-9], "nice": false},
            "axis": {"orient": "left", "offset": -13, "values": [1e-13, 1e-12, 1e-11, 1e-10, 1e-9], "labels": false, "ticks": true, "tickSize": 13, "tickWidth": 2, "tickColor": "black", "title": null}}
     }},
    {"data": {"name": "C"}, "mark": {"type": "line", "opacity": 0},
     "encoding": {
      "x": {"field": "f", "type": "quantitative", "scale": {"domain": [0, 15], "nice": false, "zero": false},
            "axis": {"orient": "top", "offset": -13, "values": [0, 5, 10, 15], "labels": false, "ticks": true, "tickSize": 13, "tickWidth": 2, "tickColor": "black", "title": null}},
      "y": {"field": "psd", "type": "quantitative", "scale": {"type": "log", "domain": [1e-13, 1e-9], "nice": false},
            "axis": {"orient": "right", "offset": -13, "values": [1e-13, 1e-12, 1e-11, 1e-10, 1e-9], "labels": false, "ticks": true, "tickSize": 13, "tickWidth": 2, "tickColor": "black", "title": null}}
     }}
   ]},
  {"width": 428, "height": 245,
   "title": {"text": "D. PSD: deriv of EOG voltage", "dy": 5},
   "resolve": {"scale": {"x": "independent", "y": "independent"}},
   "layer": [
    {"data": {"name": "D"}, "mark": {"type": "line", "color": "#1a1a1a", "strokeWidth": 2.2, "clip": true},
     "encoding": {
      "x": {"field": "f", "type": "quantitative", "scale": {"domain": [0, 15], "nice": false, "zero": false},
            "axis": {"orient": "bottom", "values": [0, 5, 10, 15], "ticks": false, "labelFlush": false, "labelPadding": 10, "title": "frequency (Hz)", "titleY": 45, "titleBaseline": "alphabetic"}},
      "y": {"field": "psd", "type": "quantitative", "scale": {"type": "log", "domain": [1e-11, 1e-6], "nice": false},
            "axis": {"orient": "left", "values": [1e-11, 1e-10, 1e-9, 1e-8, 1e-7, 1e-6], "ticks": false, "labelPadding": 4, "labelLineHeight": 12, "labelBaseline": "middle", "labelOffset": -4,
                     "labelExpr": "['\u2212' + (-round(log(datum.value)/LN10)), round(log(datum.value)/LN10) <= -10 ? '10\u00a0\u00a0\u00a0\u00a0\u00a0\u00a0\u200b' : '10\u00a0\u00a0\u00a0\u00a0\u200b']",
                     "title": "PSD", "titleX": -76, "titleY": 119, "titleBaseline": "middle", "titleAngle": -90}}
     }},
    {"data": {"name": "D"}, "mark": {"type": "line", "opacity": 0},
     "encoding": {
      "x": {"field": "f", "type": "quantitative", "scale": {"domain": [0, 15], "nice": false, "zero": false},
            "axis": {"orient": "bottom", "offset": -13, "values": [0, 5, 10, 15], "labels": false, "ticks": true, "tickSize": 13, "tickWidth": 2, "tickColor": "black", "title": null}},
      "y": {"field": "psd", "type": "quantitative", "scale": {"type": "log", "domain": [1e-11, 1e-6], "nice": false},
            "axis": {"orient": "left", "offset": -13, "values": [1e-11, 1e-10, 1e-9, 1e-8, 1e-7, 1e-6], "labels": false, "ticks": true, "tickSize": 13, "tickWidth": 2, "tickColor": "black", "title": null}}
     }},
    {"data": {"name": "D"}, "mark": {"type": "line", "opacity": 0},
     "encoding": {
      "x": {"field": "f", "type": "quantitative", "scale": {"domain": [0, 15], "nice": false, "zero": false},
            "axis": {"orient": "top", "offset": -13, "values": [0, 5, 10, 15], "labels": false, "ticks": true, "tickSize": 13, "tickWidth": 2, "tickColor": "black", "title": null}},
      "y": {"field": "psd", "type": "quantitative", "scale": {"type": "log", "domain": [1e-11, 1e-6], "nice": false},
            "axis": {"orient": "right", "offset": -13, "values": [1e-11, 1e-10, 1e-9, 1e-8, 1e-7, 1e-6], "labels": false, "ticks": true, "tickSize": 13, "tickWidth": 2, "tickColor": "black", "title": null}}
     }}
   ]}
]
}
